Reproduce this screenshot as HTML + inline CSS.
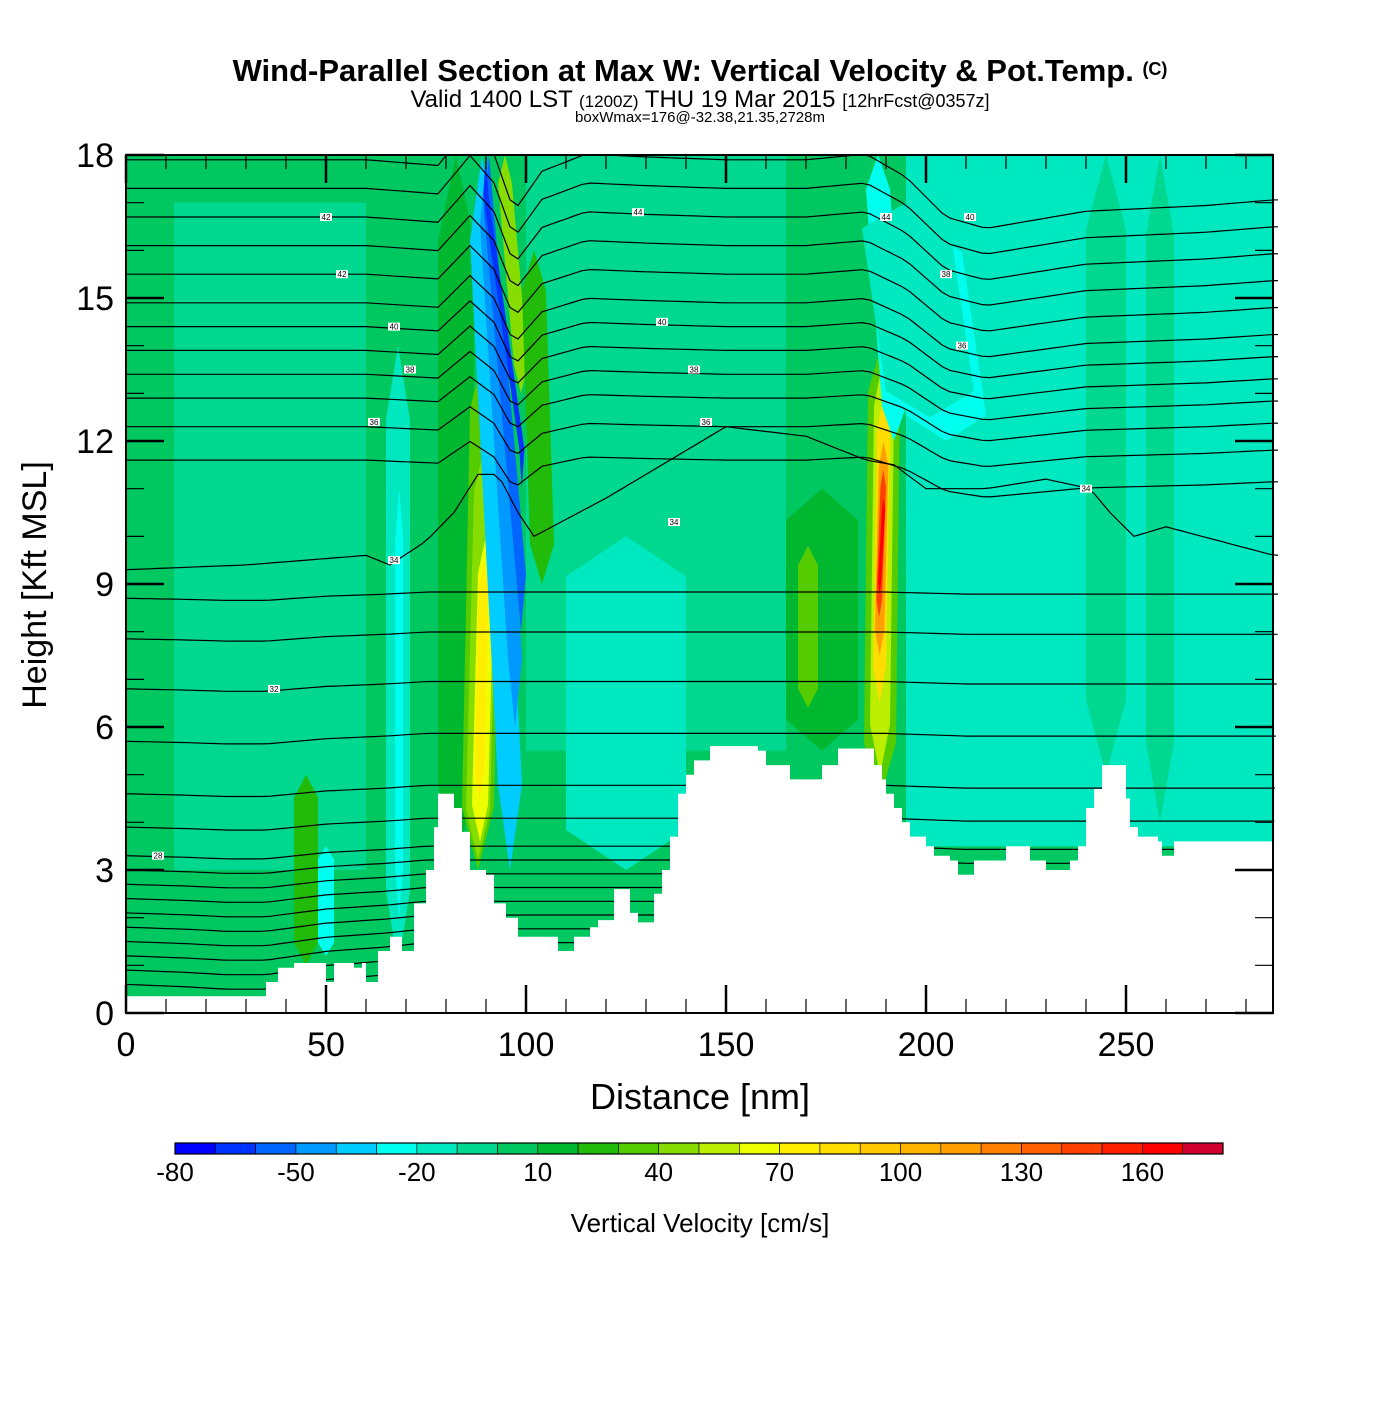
<!DOCTYPE html>
<html><head><meta charset="utf-8"><style>
html,body{margin:0;padding:0;background:#fff;}
svg text{font-family:"Liberation Sans",sans-serif;}
</style></head><body>
<svg id="chart" width="1400" height="1400" viewBox="0 0 1400 1400" xmlns="http://www.w3.org/2000/svg">
<text x="700" y="81" text-anchor="middle" font-size="31" font-weight="bold">Wind-Parallel Section at Max W: Vertical Velocity &amp; Pot.Temp. <tspan font-size="18" dy="-6">(C)</tspan></text>
<text x="700" y="107" text-anchor="middle" font-size="24">Valid 1400 LST <tspan font-size="17">(1200Z)</tspan> THU 19 Mar 2015 <tspan font-size="18">[12hrFcst@0357z]</tspan></text>
<text x="700" y="122" text-anchor="middle" font-size="15">boxWmax=176@-32.38,21.35,2728m</text>
<defs>
<clipPath id="plotClip"><rect x="126" y="155" width="1147" height="858"/></clipPath>
<clipPath id="airClip"><path id="airPath" d=""/></clipPath>
</defs>
<g id="field" clip-path="url(#plotClip)"></g>
<g id="contours" clip-path="url(#airClip)"></g>
<g id="terrain" clip-path="url(#plotClip)"></g>
<g id="axes"></g>
<g id="colorbar"></g>
<text x="700" y="1109" text-anchor="middle" font-size="36">Distance [nm]</text>
<text transform="translate(46,585) rotate(-90)" text-anchor="middle" font-size="34">Height [Kft MSL]</text>
<text x="700" y="1232" text-anchor="middle" font-size="26">Vertical Velocity [cm/s]</text>
</svg>
<script>
// ---- data ----
const cbLevels=[-80,-70,-60,-50,-40,-30,-20,-10,0,10,20,30,40,50,60,70,80,90,100,110,120,130,140,150,160,170,180];
const cbColors=["#0000ff","#0033ff","#0066ff","#0099ff","#00ccff","#00ffee","#00e8c0","#00d890","#00c860","#00b830","#22bb0a","#55cc00","#88dd00","#bbee00","#eeff00","#ffee00","#ffdd00","#ffc800","#ffb400","#ffa000","#ff8000","#ff6000","#ff4000","#ff2000","#ff0000","#d00030"];
const cbTicks=[-80,-50,-20,10,40,70,100,130,160];
const xTicks=[0,50,100,150,200,250];
const yTicks=[0,3,6,9,12,15,18];
// w features: x0,x1 (nm), h0,h1 (kft), value (cm/s), tilt (nm shift at top)
const featX0=[0,12,100,195,255,195,165,60,65,67.3,78,84,85,86.5,87.2,93,95.5,97.5,98.3,97,101,165,168,184.5,186,186.8,187.2,187.6,188,189,190,205,225,42,48,240,110];
const featX1=[287,60,165,287,262,215,183,75,71,69.3,87,92,91,90.5,89.6,99,99,100,99.6,100.5,107,183,173,192.5,191,190,189.6,189.0,188.8,195,212,215,232,48,52,250,140];
const featH0=[0,3,5.5,3.5,4,12,5.5,0.5,1,2,3,3,3.2,3.6,4.5,3,6,8,11,13,9,5.5,6.4,4.5,5,6.5,7.5,8.3,8.8,12,12.5,3.5,4,1,1.2,5,3];
const featH1=[18,17,18,18,18,16.5,11,18,14,11,18,14,12,10,9.5,18,18,18,18,18,16,11,9.8,14.2,13.8,13,12,11.4,10.8,18,17,10,12,5,3.5,18,10];
const featVal=[5,-5,-5,-15,-5,-25,15,5,-15,-25,15,35,45,60,70,-35,-45,-55,-65,45,25,15,35,35,55,85,115,140,165,-30,-20,-20,-15,25,-25,-5,-15];
const featTilt=[0,0,0,0,0,-6,0,0,0,0,0,2,2,1.5,1,-7,-7,-8,-9,-4,-2,0,0,1,1,1,1,1,1,-4,-6,0,0,0,0,0,0];
// terrain profile (nm, kft)
const terrX=[0,33,35,38,42,48,50,52,55,57,59,60,63,66,69,72,75,77,78,82,84,86,90,92,95,98,108,112,116,118,122,126,128,132,134,136,138,140,142,146,158,160,166,174,178,186,187,189,190,192,194,196,200,202,206,208,212,220,226,230,236,238,240,242,244,248,250,251,253,258,259,262,287];
const terrH=[0.35,0.35,0.65,0.95,1.05,1.05,0.65,1.05,1.05,0.95,1.05,0.65,1.3,1.6,1.3,2.3,3.0,3.9,4.6,4.3,3.8,3.0,2.9,2.3,2.0,1.6,1.3,1.6,1.8,1.95,2.6,2.1,1.9,2.5,3.0,3.7,4.6,5.0,5.3,5.6,5.5,5.2,4.9,5.2,5.55,5.55,5.2,4.9,4.6,4.3,4.0,3.7,3.5,3.3,3.2,2.9,3.2,3.5,3.2,3.0,3.2,3.5,4.3,4.7,5.2,5.2,4.5,3.9,3.7,3.6,3.3,3.6,3.6];
// potential temperature contours
const upperH0=[17.9,17.3,16.7,16.1,15.5,14.9,14.4,13.9,13.4,12.9,12.3,11.6];
const upperKnotX=[0,40,60,78,86,92,97,104,115,130,150,170,185,195,205,215,240,270,287];
const upperDisp=[0,0,0,-0.1,0.6,0.1,-0.9,-0.2,0.1,0.05,0,0,0.1,-0.3,-1.0,-1.2,-0.9,-0.8,-0.7];
const midKnotX=[0,30,60,66,75,82,88,93,98,102,120,150,170,185,192,200,215,230,241,246,252,260,287];
const midH=[9.3,9.4,9.6,9.4,9.9,10.5,11.3,11.3,10.5,10.0,10.8,12.3,12.1,11.6,11.5,11.0,11.0,11.2,11.0,10.5,10.0,10.2,9.6];
const lowerH0=[0.6,0.9,1.2,1.5,1.8,2.1,2.4,2.7,3.0,3.3,3.9,4.6,5.7,6.8,7.85,8.7];
const lowerKnotX=[0,15,25,35,50,65,75,85,95,110,130,150,170,190,210,230,250,270,287];
const lowerDisp=[0,-0.05,-0.1,-0.1,0.1,0.2,0.3,0.3,0.3,0.3,0.3,0.3,0.3,0.3,0.2,0.2,0.2,0.2,0.2];
const labelVals=["42","42","40","38","36","34","32","28","44","40","38","36","34","44","40","38","36","34"];
const labelX=[50,54,67,71,62,67,37,8,128,134,142,145,137,190,211,205,209,240];
const labelH=[16.7,15.5,14.4,13.5,12.4,9.5,6.8,3.3,16.8,14.5,13.5,12.4,10.3,16.7,16.7,15.5,14.0,11.0];

// ---- scales ----
const X=d=>126+d*4;
const Y=h=>1013-h*47.666;
const NS="http://www.w3.org/2000/svg";
function mk(tag,parent){const e=document.createElementNS(NS,tag);parent.appendChild(e);return e;}
function colorOf(v){for(let i=0;i<cbColors.length;i++){if(v<cbLevels[i+1])return cbColors[i];}return cbColors[cbColors.length-1];}
function interp(xs,ys,x){if(x<=xs[0])return ys[0];for(let i=1;i<xs.length;i++){if(x<=xs[i]){const t=(x-xs[i-1])/(xs[i]-xs[i-1]);return ys[i-1]+t*(ys[i]-ys[i-1]);}}return ys[ys.length-1];}

// ---- field ----
const field=document.getElementById('field');
for(let i=0;i<featVal.length;i++){
  const p=mk('polygon',field);
  const x0=featX0[i],x1=featX1[i],h0=featH0[i],h1=featH1[i],tl=featTilt[i];
  const xm=(x0+x1)/2, wide=(x1-x0)>40;
  const tp=wide?0:(h1-h0)*0.12;
  const pts=[[xm,h0],[x1,h0+tp],[x1+tl,h1-tp],[xm+tl,h1],[x0+tl,h1-tp],[x0,h0+tp]];
  p.setAttribute('points',pts.map(q=>X(q[0]).toFixed(1)+','+Y(q[1]).toFixed(1)).join(' '));
  p.setAttribute('fill',colorOf(featVal[i]));
  
  
}

// ---- terrain ----
let tpts=[];
for(let i=0;i<terrX.length;i++){
  if(i>0)tpts.push([terrX[i],terrH[i-1]]);
  tpts.push([terrX[i],terrH[i]]);
}
const tg=document.getElementById('terrain');
const tp=mk('polygon',tg);
tp.setAttribute('points',[[0,0]].concat(tpts).concat([[290,0]]).map(q=>X(q[0]).toFixed(1)+','+Y(q[1]).toFixed(1)).join(' '));
tp.setAttribute('fill','#ffffff');


document.getElementById('airPath').setAttribute('d','M'+X(0)+','+Y(18)+' '+tpts.map(q=>'L'+X(q[0]).toFixed(1)+','+Y(q[1]).toFixed(1)).join(' ')+' L'+X(290)+','+Y(18)+' Z');

// ---- contours ----
const cg=document.getElementById('contours');
function drawLine(fn){
  let d='';
  for(let x=0;x<=288;x+=2){d+=(x?'L':'M')+X(x).toFixed(1)+','+Y(fn(x)).toFixed(1)+' ';}
  const p=mk('path',cg);p.setAttribute('d',d);p.setAttribute('fill','none');p.setAttribute('stroke','#000');p.setAttribute('stroke-width','1.2');
  
  
}
upperH0.forEach((h,k)=>{const s=0.6+0.6*(1-k/upperH0.length);drawLine(x=>h+s*interp(upperKnotX,upperDisp,x));});
drawLine(x=>interp(midKnotX,midH,x));
lowerH0.forEach((h,k)=>{const s=1-k/lowerH0.length*0.6;drawLine(x=>h+s*interp(lowerKnotX,lowerDisp,x));});
for(let i=0;i<labelVals.length;i++){
  const r=mk('rect',cg);r.setAttribute('x',X(labelX[i])-6);r.setAttribute('y',Y(labelH[i])-4);r.setAttribute('width',12);r.setAttribute('height',8);r.setAttribute('fill','#fff');
  
  
  const t=mk('text',cg);t.setAttribute('x',X(labelX[i]));t.setAttribute('y',Y(labelH[i])+3);t.setAttribute('font-size','8');t.setAttribute('text-anchor','middle');t.textContent=labelVals[i];
  
  
}

// ---- axes ----
const ax=document.getElementById('axes');
const fr=mk('rect',ax);fr.setAttribute('x',126);fr.setAttribute('y',155);fr.setAttribute('width',1147);fr.setAttribute('height',858);fr.setAttribute('fill','none');fr.setAttribute('stroke','#000');fr.setAttribute('stroke-width','2');


function ln(x1,y1,x2,y2,w){const l=mk('line',ax);l.setAttribute('x1',x1);l.setAttribute('y1',y1);l.setAttribute('x2',x2);l.setAttribute('y2',y2);l.setAttribute('stroke','#000');l.setAttribute('stroke-width',w);
  
  }
for(let d=0;d<=280;d+=10){const major=d%50===0;ln(X(d),1013,X(d),1013-(major?28:14),major?2.5:1.2);ln(X(d),155,X(d),155+(major?28:14),major?2.5:1.2);}
for(let h=0;h<=18;h+=1){const major=h%3===0;ln(126,Y(h),126+(major?38:18),Y(h),major?2.5:1.2);ln(1273,Y(h),1273-(major?38:18),Y(h),major?2.5:1.2);}
xTicks.forEach(v=>{const t=mk('text',ax);t.setAttribute('x',X(v));t.setAttribute('y',1056);t.setAttribute('text-anchor','middle');t.setAttribute('font-size','34');t.textContent=v;
  
  });
yTicks.forEach(v=>{const t=mk('text',ax);t.setAttribute('x',114);t.setAttribute('y',Y(v)+12);t.setAttribute('text-anchor','end');t.setAttribute('font-size','34');t.textContent=v;
  
  });

// ---- colorbar ----
const cb=document.getElementById('colorbar');
const cbX=v=>175+(v+80)*1048/260;
for(let i=0;i<cbColors.length;i++){
  const r=mk('rect',cb);r.setAttribute('x',cbX(cbLevels[i]));r.setAttribute('y',1143);r.setAttribute('width',cbX(cbLevels[i+1])-cbX(cbLevels[i]));r.setAttribute('height',11);r.setAttribute('fill',cbColors[i]);r.setAttribute('stroke','#000');r.setAttribute('stroke-width','0.6');
  
  
}
const cbf=mk('rect',cb);cbf.setAttribute('x',175);cbf.setAttribute('y',1143);cbf.setAttribute('width',1048);cbf.setAttribute('height',11);cbf.setAttribute('fill','none');cbf.setAttribute('stroke','#000');cbf.setAttribute('stroke-width','1.2');


cbTicks.forEach(v=>{const t=mk('text',cb);t.setAttribute('x',cbX(v));t.setAttribute('y',1181);t.setAttribute('text-anchor','middle');t.setAttribute('font-size','26');t.textContent=v;
  
  });
</script>
</body></html>
